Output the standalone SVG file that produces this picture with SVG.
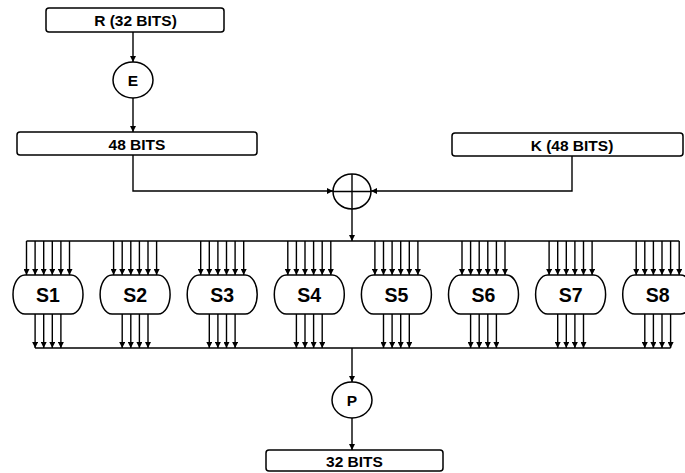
<svg xmlns="http://www.w3.org/2000/svg" width="685" height="473" viewBox="0 0 685 473">
<defs>
<style>
.box{fill:#fff;stroke:#000;stroke-width:1.5}
.lbl{font-family:"Liberation Sans",Arial,sans-serif;font-weight:bold;font-size:15.5px;text-anchor:middle;fill:#000}
.sl{font-family:"Liberation Sans",Arial,sans-serif;font-weight:bold;font-size:19.5px;text-anchor:middle;fill:#000}
.ln{fill:none;stroke:#000;stroke-width:1.4}
.ar{fill:none;stroke:#000;stroke-width:1.4;marker-end:url(#ah)}
</style>
<marker id="ah" markerUnits="userSpaceOnUse" markerWidth="6" markerHeight="6" refX="6" refY="3" orient="auto">
<path d="M0,0 L6,3 L0,6 z" fill="#000"/>
</marker>
<path id="sbox" d="M12,0 H58 A12,19.5 0 0 1 58,39 H12 A12,19.5 0 0 1 12,0 Z"/>
</defs>

<g id="connectors">
<line class="ar" x1="133" y1="32" x2="133" y2="62"/>
<line class="ar" x1="133" y1="98" x2="133" y2="132"/>
<path class="ar" d="M133,155 V191 H333"/>
<path class="ar" d="M572,156 V191 H371"/>
<line class="ar" x1="352" y1="209" x2="352" y2="241"/>
<line class="ln" x1="26.5" y1="241" x2="679.2" y2="241"/>
<line class="ln" x1="35.1" y1="348" x2="670.6" y2="348"/>
<line class="ar" x1="352" y1="348" x2="352" y2="382"/>
<line class="ar" x1="352" y1="418" x2="352" y2="450"/>
<g id="sbox-inputs">
<line class="ar" x1="26.5" y1="241" x2="26.5" y2="275"/><line class="ar" x1="35.1" y1="241" x2="35.1" y2="275"/><line class="ar" x1="43.7" y1="241" x2="43.7" y2="275"/><line class="ar" x1="52.3" y1="241" x2="52.3" y2="275"/><line class="ar" x1="60.9" y1="241" x2="60.9" y2="275"/><line class="ar" x1="69.5" y1="241" x2="69.5" y2="275"/>
<line class="ar" x1="113.6" y1="241" x2="113.6" y2="275"/><line class="ar" x1="122.2" y1="241" x2="122.2" y2="275"/><line class="ar" x1="130.8" y1="241" x2="130.8" y2="275"/><line class="ar" x1="139.4" y1="241" x2="139.4" y2="275"/><line class="ar" x1="148" y1="241" x2="148" y2="275"/><line class="ar" x1="156.6" y1="241" x2="156.6" y2="275"/>
<line class="ar" x1="200.7" y1="241" x2="200.7" y2="275"/><line class="ar" x1="209.3" y1="241" x2="209.3" y2="275"/><line class="ar" x1="217.9" y1="241" x2="217.9" y2="275"/><line class="ar" x1="226.5" y1="241" x2="226.5" y2="275"/><line class="ar" x1="235.1" y1="241" x2="235.1" y2="275"/><line class="ar" x1="243.7" y1="241" x2="243.7" y2="275"/>
<line class="ar" x1="287.8" y1="241" x2="287.8" y2="275"/><line class="ar" x1="296.4" y1="241" x2="296.4" y2="275"/><line class="ar" x1="305" y1="241" x2="305" y2="275"/><line class="ar" x1="313.6" y1="241" x2="313.6" y2="275"/><line class="ar" x1="322.2" y1="241" x2="322.2" y2="275"/><line class="ar" x1="330.8" y1="241" x2="330.8" y2="275"/>
<line class="ar" x1="374.9" y1="241" x2="374.9" y2="275"/><line class="ar" x1="383.5" y1="241" x2="383.5" y2="275"/><line class="ar" x1="392.1" y1="241" x2="392.1" y2="275"/><line class="ar" x1="400.7" y1="241" x2="400.7" y2="275"/><line class="ar" x1="409.3" y1="241" x2="409.3" y2="275"/><line class="ar" x1="417.9" y1="241" x2="417.9" y2="275"/>
<line class="ar" x1="462" y1="241" x2="462" y2="275"/><line class="ar" x1="470.6" y1="241" x2="470.6" y2="275"/><line class="ar" x1="479.2" y1="241" x2="479.2" y2="275"/><line class="ar" x1="487.8" y1="241" x2="487.8" y2="275"/><line class="ar" x1="496.4" y1="241" x2="496.4" y2="275"/><line class="ar" x1="505" y1="241" x2="505" y2="275"/>
<line class="ar" x1="549.1" y1="241" x2="549.1" y2="275"/><line class="ar" x1="557.7" y1="241" x2="557.7" y2="275"/><line class="ar" x1="566.3" y1="241" x2="566.3" y2="275"/><line class="ar" x1="574.9" y1="241" x2="574.9" y2="275"/><line class="ar" x1="583.5" y1="241" x2="583.5" y2="275"/><line class="ar" x1="592.1" y1="241" x2="592.1" y2="275"/>
<line class="ar" x1="636.2" y1="241" x2="636.2" y2="275"/><line class="ar" x1="644.8" y1="241" x2="644.8" y2="275"/><line class="ar" x1="653.4" y1="241" x2="653.4" y2="275"/><line class="ar" x1="662" y1="241" x2="662" y2="275"/><line class="ar" x1="670.6" y1="241" x2="670.6" y2="275"/><line class="ar" x1="679.2" y1="241" x2="679.2" y2="275"/>
</g>
<g id="sbox-outputs">
<line class="ar" x1="35.1" y1="314" x2="35.1" y2="348"/><line class="ar" x1="43.7" y1="314" x2="43.7" y2="348"/><line class="ar" x1="52.3" y1="314" x2="52.3" y2="348"/><line class="ar" x1="60.9" y1="314" x2="60.9" y2="348"/>
<line class="ar" x1="122.2" y1="314" x2="122.2" y2="348"/><line class="ar" x1="130.8" y1="314" x2="130.8" y2="348"/><line class="ar" x1="139.4" y1="314" x2="139.4" y2="348"/><line class="ar" x1="148" y1="314" x2="148" y2="348"/>
<line class="ar" x1="209.3" y1="314" x2="209.3" y2="348"/><line class="ar" x1="217.9" y1="314" x2="217.9" y2="348"/><line class="ar" x1="226.5" y1="314" x2="226.5" y2="348"/><line class="ar" x1="235.1" y1="314" x2="235.1" y2="348"/>
<line class="ar" x1="296.4" y1="314" x2="296.4" y2="348"/><line class="ar" x1="305" y1="314" x2="305" y2="348"/><line class="ar" x1="313.6" y1="314" x2="313.6" y2="348"/><line class="ar" x1="322.2" y1="314" x2="322.2" y2="348"/>
<line class="ar" x1="383.5" y1="314" x2="383.5" y2="348"/><line class="ar" x1="392.1" y1="314" x2="392.1" y2="348"/><line class="ar" x1="400.7" y1="314" x2="400.7" y2="348"/><line class="ar" x1="409.3" y1="314" x2="409.3" y2="348"/>
<line class="ar" x1="470.6" y1="314" x2="470.6" y2="348"/><line class="ar" x1="479.2" y1="314" x2="479.2" y2="348"/><line class="ar" x1="487.8" y1="314" x2="487.8" y2="348"/><line class="ar" x1="496.4" y1="314" x2="496.4" y2="348"/>
<line class="ar" x1="557.7" y1="314" x2="557.7" y2="348"/><line class="ar" x1="566.3" y1="314" x2="566.3" y2="348"/><line class="ar" x1="574.9" y1="314" x2="574.9" y2="348"/><line class="ar" x1="583.5" y1="314" x2="583.5" y2="348"/>
<line class="ar" x1="644.8" y1="314" x2="644.8" y2="348"/><line class="ar" x1="653.4" y1="314" x2="653.4" y2="348"/><line class="ar" x1="662" y1="314" x2="662" y2="348"/><line class="ar" x1="670.6" y1="314" x2="670.6" y2="348"/>
</g>
</g>

<g id="r32"><rect class="box" x="46" y="8" width="178" height="24" rx="3"/><text class="lbl" x="135.5" y="25.5">R (32 BITS)</text></g>
<g id="e"><ellipse class="box" cx="133" cy="80" rx="20" ry="18"/><text class="lbl" x="133" y="86">E</text></g>
<g id="b48"><rect class="box" x="17" y="132" width="240" height="23" rx="3"/><text class="lbl" x="137" y="149.5">48 BITS</text></g>
<g id="k48"><rect class="box" x="452" y="133" width="231" height="23" rx="3"/><text class="lbl" x="572" y="150.5">K (48 BITS)</text></g>
<g id="xor"><ellipse class="box" cx="352" cy="191.5" rx="19" ry="17.5"/><path class="ln" d="M333,191.5 H371 M352,174 V209"/></g>
<g id="s1"><use href="#sbox" x="13" y="275" class="box"/><text class="sl" x="48" y="301.5">S1</text></g>
<g id="s2"><use href="#sbox" x="100.1" y="275" class="box"/><text class="sl" x="135.1" y="301.5">S2</text></g>
<g id="s3"><use href="#sbox" x="187.2" y="275" class="box"/><text class="sl" x="222.2" y="301.5">S3</text></g>
<g id="s4"><use href="#sbox" x="274.3" y="275" class="box"/><text class="sl" x="309.3" y="301.5">S4</text></g>
<g id="s5"><use href="#sbox" x="361.4" y="275" class="box"/><text class="sl" x="396.4" y="301.5">S5</text></g>
<g id="s6"><use href="#sbox" x="448.5" y="275" class="box"/><text class="sl" x="483.5" y="301.5">S6</text></g>
<g id="s7"><use href="#sbox" x="535.6" y="275" class="box"/><text class="sl" x="570.6" y="301.5">S7</text></g>
<g id="s8"><use href="#sbox" x="622.7" y="275" class="box"/><text class="sl" x="657.7" y="301.5">S8</text></g>
<g id="p"><ellipse class="box" cx="352" cy="400" rx="20" ry="18"/><text class="lbl" x="352" y="405.5">P</text></g>
<g id="b32"><rect class="box" x="266" y="450" width="177" height="21" rx="3"/><text class="lbl" x="354.5" y="466.5">32 BITS</text></g>
</svg>
